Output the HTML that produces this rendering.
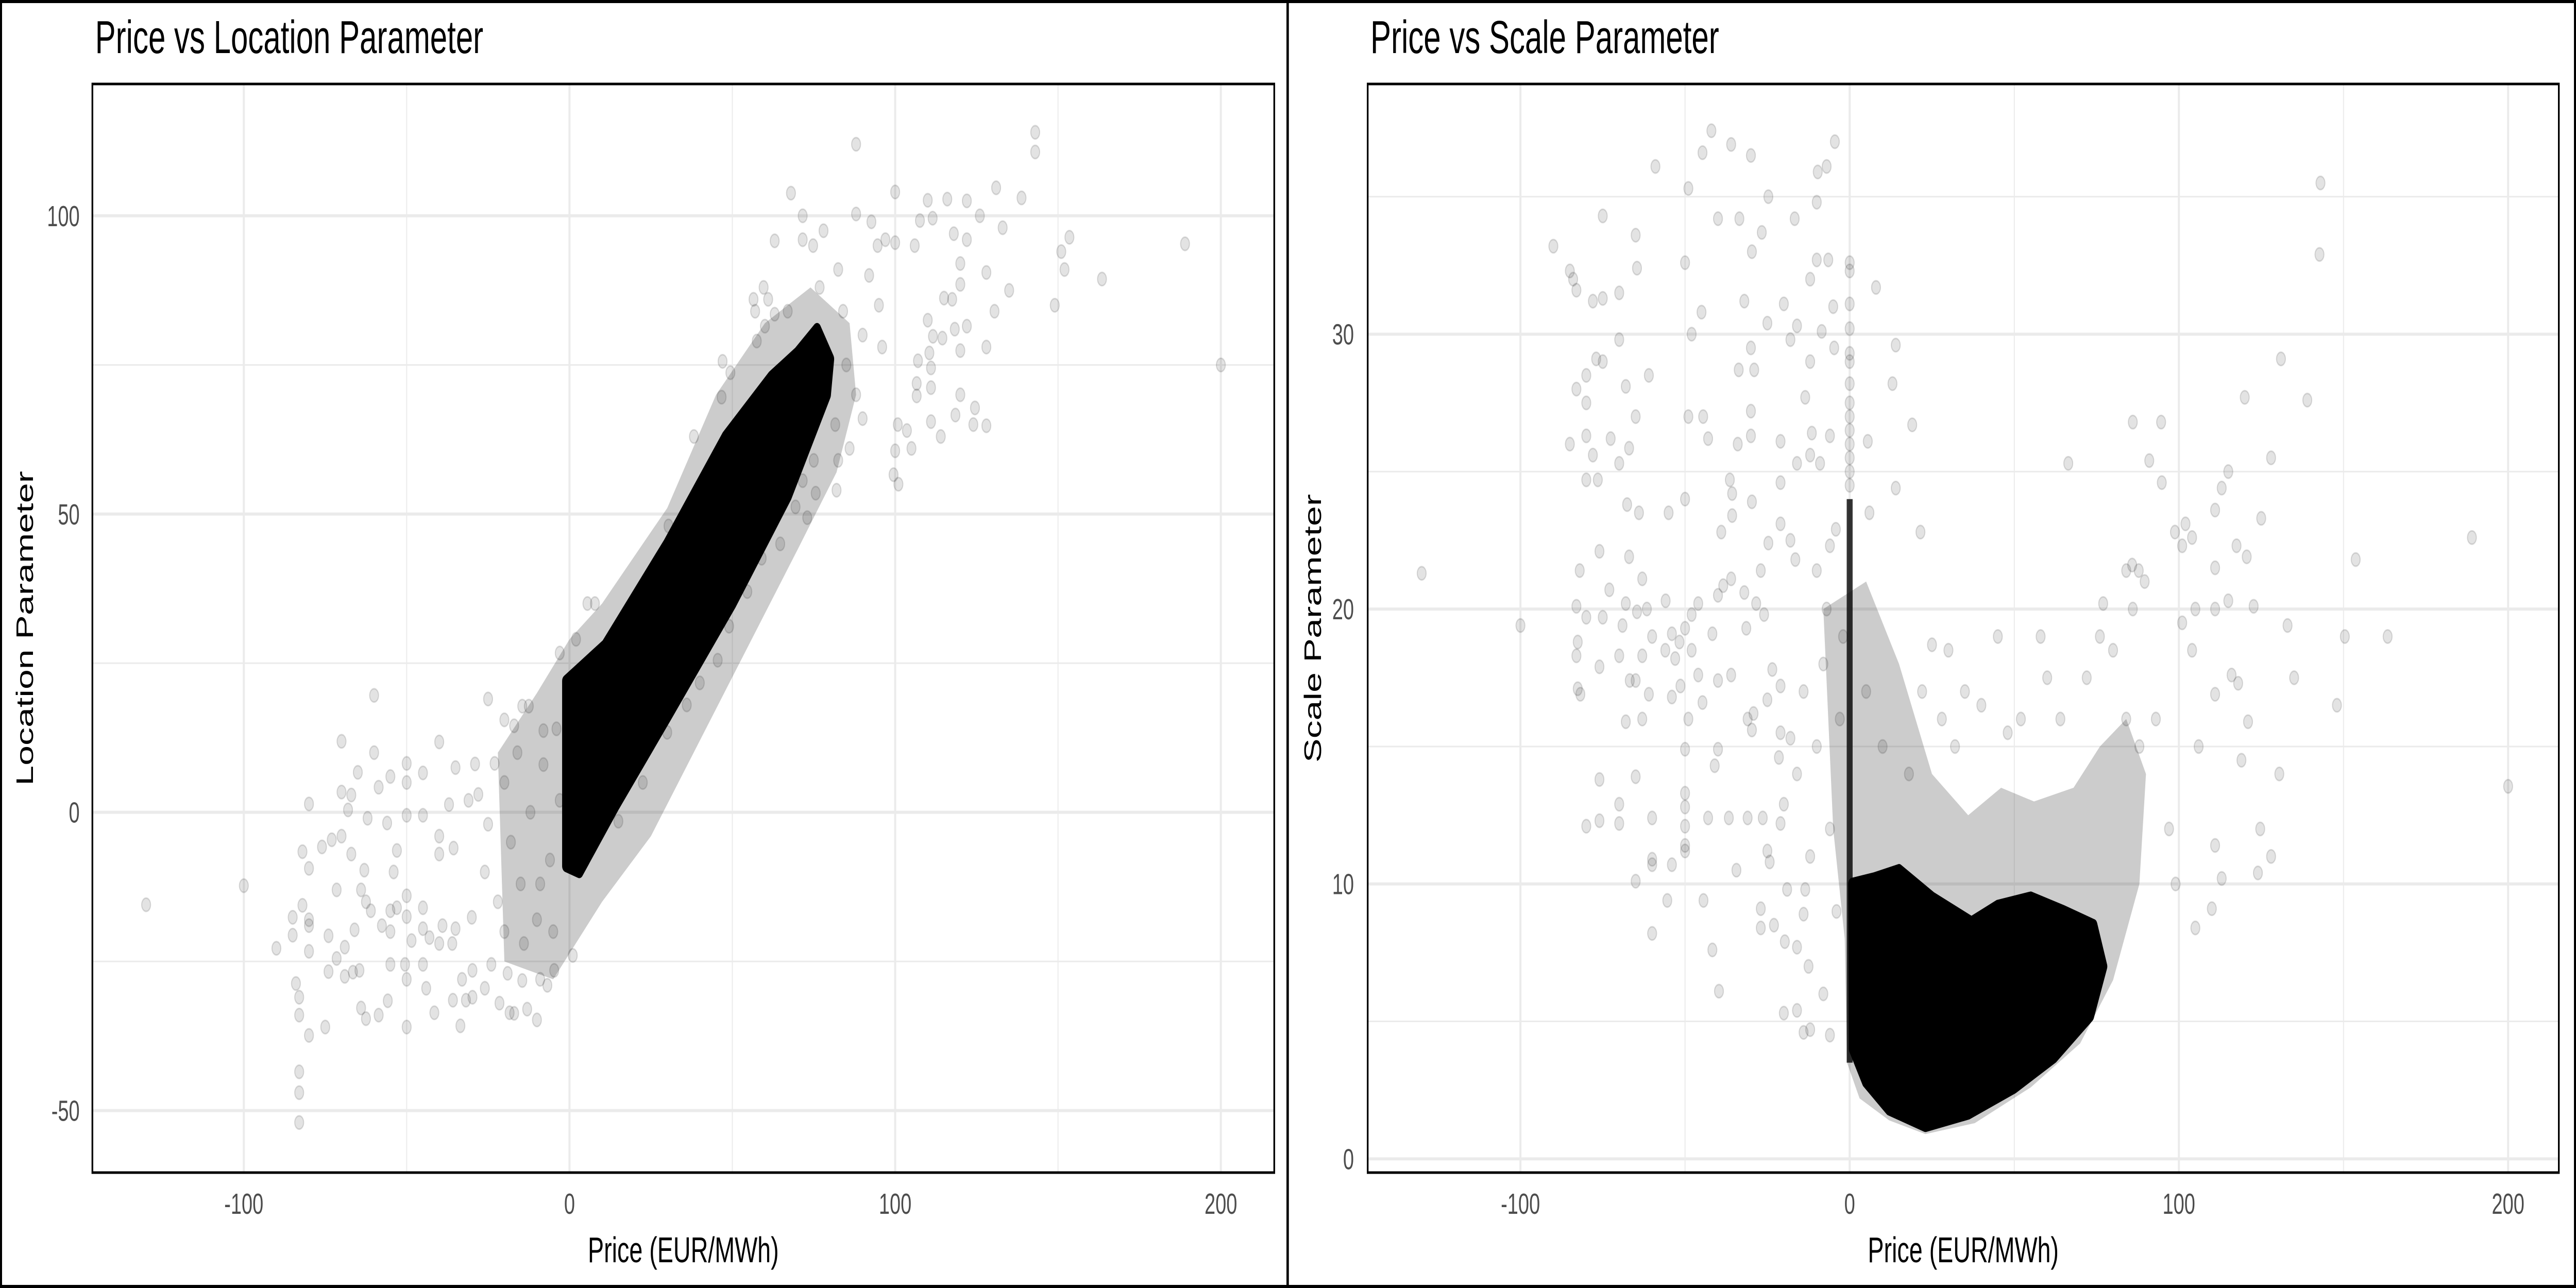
<!DOCTYPE html>
<html>
<head>
<meta charset="utf-8">
<style>
html,body{margin:0;padding:0;background:#fff;overflow:hidden;width:100%;height:100%;}
svg{display:block;width:100vw;height:100vh;}
text{font-family:"Liberation Sans",Arial,sans-serif;}
</style>
</head>
<body>
<svg id="chart" viewBox="0 0 7500 2500" preserveAspectRatio="none" xmlns="http://www.w3.org/2000/svg">
  <rect x="0" y="0" width="7500" height="2500" fill="#fff"/>
  <g id="leftPanel"></g>
  <g id="rightPanel"></g>
  <rect x="3" y="3" width="7494" height="2494" fill="none" stroke="#000" stroke-width="6"/>
  <line x1="3749" y1="0" x2="3749" y2="2500" stroke="#000" stroke-width="7"/>
</svg>
<script>
// ---------------- DATA ----------------
const xTicks = [-100, 0, 100, 200];
const xMinor = [-150, -50, 50, 150];
const leftYTicks = [-50, 0, 50, 100];
const leftYMinor = [-25, 25, 75];
const rightYTicks = [0, 10, 20, 30];
const rightYMinor = [5, 15, 25, 35];

// dense core envelope (price, location)
const leftCore = [[-1,-9],[-1,22],[5,25],[11,28],[30,45],[48,63],[62,73],[70,77],[76,81],[80,76],[79,70],[67,53],[50,35],[30,16],[14,1],[8,-5],[3,-10]];
const leftHalo = [[-20,-25],[-22,10],[-10,20],[0,29],[10,35],[30,51],[45,70],[60,82],[74,88],[86,82],[88,70],[82,57],[70,44],[55,28],[40,12],[25,-4],[10,-15],[-5,-28]];
// sparse points (price, location)
const leftPoints = [[-130,-15.5],[-100,-12.3],[-90,-22.8],[-83,-43.5],[-83,-47],[-83,-52],[-84,-28.7],[-83,-31],[-83,-34],[-80,-37.4],[-75,-36],
[-80,1.4],[-82,-6.6],[-80,-9.4],[-82,-15.6],[-80,-18],[-85,-17.6],[-85,-20.6],[-80,-19],[-80,-23.3],[-76,-5.8],[-73,-4.6],[-70,-4],[-70,11.9],[-60,19.6],[-60,10],[-65,6.7],[-67,2.9],[-70,3.4],[-68,0.4],[-58.6,4.2],[-55,6],[-50,8.2],[-50,5],[-45,6.6],[-40,11.8],[-35,7.5],[-29,8.1],[-23,8.2],[-25,19],[-20,15.5],[-14.5,17.8],[-17,14.5],[-8,13.7],
[-62,-1],[-56,-1.8],[-50,-0.5],[-45,-0.5],[-40,-4],[-37,1.3],[-31,2],[-28,3],[-25,-2],[-35.6,-6],[-40,-7],[-53,-6.4],[-54,-10],[-63,-9.7],[-67,-7],[-71.5,-13],[-64,-13],[-62.5,-15],[-61,-16.5],[-57.6,-19],[-55,-20],[-50,-14],[-53,-16],[-55,-16.5],[-50,-17.5],[-45,-16],[-39,-19],[-35,-19.5],[-30,-17.6],[-45,-19.5],[-43,-21],[-48.5,-21.5],[-40,-22],[-36,-22],[-66,-19.7],[-69,-22.6],[-74,-20.7],[-71.5,-24.5],[-74,-26.7],[-69,-27.5],[-66.5,-26.8],[-64.5,-26.5],[-55.8,-31.6],[-55,-25.5],[-50.5,-25.5],[-50,-28],[-45,-25.5],[-44,-29.5],[-41.5,-33.6],[-58.6,-34],[-62.5,-34.6],[-64,-32.8],[-50,-36],[-33.5,-35.8],[-35.8,-31.5],[-31.8,-31.5],[-29.8,-31],[-29.8,-26.5],[-33,-28],[-24,-25.5],[-26,-29.5],[-21.5,-32],[-18.4,-33.6],[-17,-33.7],[-13,-33],[-10,-34.8],[-19,-27],[-14.5,-28.2],[-9,-28],[-6.8,-29],[-4.7,-26.5],[1,-24],
[-20,5],[-18,-5],[-15,-12],[-12,0],[-10,-18],[-8,8],[-6,-8],[-5,-20],[-3,2],[-22,-15],[-16,10],[-26,-10],[-14,-22],[-20,-20],[-9,-12],[-4,14],
[200,75],[189,95.3],[163.5,89.4],[143,114],[143,110.7],[153.5,96.4],[151,94],[152,91],[149,85],[138.8,103],[131,104.7],[133,98],[135,87.5],[130.5,84],[128,78],[128,90.5],[126,100],[122,102.5],[116,102.8],[110,102.6],[111.5,99.6],[107.6,99.2],[118,97],[122,96],[120,92],[120,88.5],[117.5,86],[115,86.2],[122,81.5],[118.3,81],[120,77.4],[111.6,79.8],[114.5,79.5],[110.5,77],[111,74.5],[111,71.2],[120,70],[124.5,67.8],[118.5,66.6],[124,65],[128,64.8],[114,63],[111,65.5],[106.6,71.9],[106.6,69.8],[105,61],[100,60.6],[101,55],[99.5,56.6],[103.6,64],[100.8,65],[110,82.5],[107,75.7],[106,95],[100,104],[92.7,99],[88,112],[88,100.3],[68,103.8],[71.6,100],[78,97.5],[74.8,95],[63,95.8],[71.6,96],[82.5,91],[76.8,88],[94.6,95],[100,95.5],[97,96],
[59.6,88],[61,86],[56.5,86],[57,84],[67,84],[63,83.5],[60,81.5],[57.5,79],[49.4,73.7],[47,75.6],[46.7,69.6],[38.2,63],[30.4,48],[5.5,35],[7.8,35],[2,29],[-3,26.7],[-12.5,17.8],
[73,49.4],[75.6,53.5],[69.4,51.2],[64.7,45],[59,42.6],[54.6,37],[49,31.2],[45.5,25.5],[40,21.7],[36,18],[30,13.4],[22.5,5],[15,-1.5],[82,54],[82.5,59],[75,59],[71.6,55.6],[86,61],[81.6,65],[85,75],[90,80],[88,70],[95,85],[92,90],[84,84],[96,78],[90,66]];

// right panel (price, scale)
const rightCore = [[0.8,10],[1,4],[5,2.8],[12,1.8],[23,1.2],[36,1.65],[50,2.6],[62,3.7],[73,5.2],[77,7],[74,8.5],[65,9],[55,9.5],[45,9.2],[37,8.6],[25,9.5],[15,10.5],[7.5,10.2]];
const rightHalo = [[-8,20],[-5,12],[-1.5,8],[-0.8,3.5],[3,2.2],[12,1.4],[23,0.9],[38,1.3],[55,2.6],[70,4.2],[80,6.5],[88,10],[90,14],[84,16],[76,15],[68,13.5],[56,13],[46,13.5],[36,12.5],[25,14],[15,18],[5,21]];
const rightColumn = [[-0.9,3.5],[-0.9,24],[0.9,24],[0.9,3.5]];
const rightPoints = [[-130,21.3],[-100,19.4],[200,13.55],[189,22.6],[153.7,21.8],[150.4,19],[148,16.5],[163.4,19],[143,35.5],[142.7,32.9],[139,27.6],[131,29.1],[128,25.5],[125,23.3],[122.7,20.1],[120,27.7],[133,19.4],[135,17.5],[130.5,14],[128,11],[124.7,12],[124,10.4],[119,14.5],[121,15.9],[120.6,21.9],[115,25],[113,24.4],[117.5,22.3],[115,20.3],[111,21.5],[111,20],[105,20],[101,22.3],[102,23.1],[104,22.6],[111,23.6],[101,19.5],[104,18.5],[111,16.9],[106,15],[110,9.1],[105,8.4],[113,10.2],[111,11.4],[118,17.3],[116,17.6],[94.6,26.8],[91,25.4],[86,26.8],[85.8,21.6],[87.8,21.4],[89.6,21],[84,21.4],[77,20.2],[66.4,25.3],[94.8,24.6],[98.8,22.8],
[-90,33.2],[-85,32.3],[-84,32],[-83,31.6],[-78,31.2],[-75,31.3],[-70,31.5],[-75,34.3],[-65,33.6],[-64.6,32.4],[-70,29.8],[-77,29.1],[-75,29],[-68,28.1],[-61,28.5],[-80,28.5],[-83,28],[-80,27.5],[-65,27],[-85,26],[-80,26.3],[-78,25.6],[-72.6,26.2],[-70,25.3],[-67,25.85],[-80,24.7],[-76.5,24.7],[-67.6,23.8],[-64,23.5],[-55,23.5],[-50,24],[-59,36.1],[-42,37.4],[-44.7,36.6],[-36,36.9],[-30,36.5],[-49,35.3],[-40,34.2],[-33.5,34.2],[-26.7,33.7],[-29.7,33],[-24.7,35],[-16.7,34.2],[-9.7,35.9],[-7,36.1],[-4.5,37],[-10,34.8],[-12,32],[-10,32.7],[-6.5,32.7],[-5,31],[-20,31.1],[-25,30.4],[-18,29.8],[-16,30.3],[-8.5,30.1],[-4.7,29.5],[-12,29],[-32,31.2],[-48,30],[-45,30.8],[-50,32.6],[-30,29.5],[-29,28.7],[-33.7,28.7],[-34,26],[-30,26.3],[-30,27.2],[-49,27],[-44.5,27],[-43,26.2],[-21,26.1],[-21,24.6],[-13.5,27.7],[-11.5,26.4],[-6,26.3],[-9,25.3],[-12,25.6],[-16,25.3],[-36.4,24.7],[-35.7,24.2],[-35.7,23.4],[-39,22.8],[-29.7,23.9],[-24.7,22.4],[-21,23.1],[-18,22.5],[-16.5,21.8],[-10,21.4],[-6,22.3],[-4.2,22.9],[6,23.5],[14,24.4],[19,26.7],[13,28.2],[14,29.6],[8,31.7],[5.5,26.1],[21.5,22.8],
[-82,21.4],[-83,20.1],[-82.6,18.8],[-83,18.3],[-82.6,17.1],[-81.8,16.9],[-80,19.7],[-76,22.1],[-73,20.7],[-75,19.7],[-68,20.2],[-64.6,19.9],[-61.6,20],[-63,21.1],[-67,21.9],[-69,19.4],[-76,17.9],[-70,18.3],[-66.8,17.4],[-65,17.4],[-68,15.9],[-63,16],[-61,16.9],[-60,19],[-63,18.3],[-55.9,20.3],[-54,19.1],[-53,18.2],[-51.7,18.8],[-50,19.3],[-48,19.8],[-48,18.5],[-56,18.5],[-54,16.8],[-51.4,17.2],[-49,16],[-44.7,16.6],[-46,17.6],[-41.7,19.1],[-40,20.5],[-38.4,20.85],[-36,21.1],[-32,20.6],[-28.4,20.2],[-31.4,19.3],[-27,21.4],[-26,19.8],[-46,20.2],[-40,17.4],[-36,17.6],[-31,16],[-29.7,15.6],[-29.2,16.2],[-23.5,17.8],[-25,16.7],[-21,17.2],[-21,15.5],[-18,15.3],[-21.5,14.6],[-16,14],[-20,12.9],[-21,12.2],[-26.4,12.4],[-31,12.4],[-36.7,12.4],[-43,12.4],[-41,14.3],[-40,14.9],[-50,14.9],[-50,13.3],[-50,12.8],[-50,12.1],[-50,11.2],[-50,11.4],[-60,12.4],[-60,10.9],[-60,10.7],[-65,10.1],[-65,13.9],[-70,12.9],[-70,12.2],[-76,12.3],[-80,12.1],[-76,13.8],[-55.4,9.4],[-54,10.7],[-44.4,9.4],[-41.7,7.6],[-39.7,6.1],[-60,8.2],[-34.4,10.5],[-25,11.2],[-24.3,10.8],[-27,9.1],[-27,8.4],[-23,8.5],[-19.7,7.9],[-16,7.7],[-20,5.3],[-14,4.6],[-16,5.4],[-6,4.5],[-12,4.7],[-12.5,7],[-14,8.9],[-13.5,9.8],[-19,9.8],
[0,24.5],[0,25.5],[0,26.5],[0,27.5],[0,28.2],[0,29],[0,29.3],[0,30.2],[0,31.1],[0,32.3],[0,32.6],[0,26],[0,27],[0,25],
[-8,18],[-10,15],[-6,12],[-12,11],[-4,9],[-8,6],[-3,16],[-7,20],[-14,17],[-2,19],[5,17],[10,15],[18,14],[22,17],[28,16],[32,15],[40,16.5],[48,15.5],[52,16],[60,17.5],[64,16],[72,17.5],[80,18.5],[84,16],[88,15],[93,16],[97,12],[99,10],[86,20],[76,19],[58,19],[45,19],[30,18.5],[35,17],[25,18.7]];

// ---------------- HELPERS ----------------
const NS = 'http://www.w3.org/2000/svg';
function lin(d0, d1, r0, r1){ return v => r0 + (v - d0) * (r1 - r0) / (d1 - d0); }
function mk(tag, attrs, parent){
  const e = document.createElementNS(NS, tag);
  for (const k in attrs) e.setAttribute(k, attrs[k]);
  parent.appendChild(e);
  return e;
}

function drawPanel(g, cfg){
  const {L, R, T, B, xs, ys, yMajor, yMinor, yLabelRight, core, halo, extra, pts, title, ytitle, ytitleX} = cfg;
  xMinor.forEach(v => {
    const x = xs(v);
    if (x <= L || x >= R) return;
    const ln = mk('line', {x1:x, x2:x, y1:T, y2:B, stroke:'#ebebeb', 'stroke-width':3}, g);
    
    
  });
  yMinor.forEach(v => {
    const y = ys(v);
    if (y <= T || y >= B) return;
    const ln = mk('line', {x1:L, x2:R, y1:y, y2:y, stroke:'#ebebeb', 'stroke-width':3}, g);
    
    
  });
  xTicks.forEach(v => {
    const x = xs(v);
    const ln = mk('line', {x1:x, x2:x, y1:T, y2:B, stroke:'#ebebeb', 'stroke-width':6}, g);
    
    
    const t = mk('text', {x:x, y:2356, 'font-size':57, fill:'#4d4d4d', 'text-anchor':'middle'}, g);
    t.textContent = String(v);
    
    
  });
  yMajor.forEach(v => {
    const y = ys(v);
    const ln = mk('line', {x1:L, x2:R, y1:y, y2:y, stroke:'#ebebeb', 'stroke-width':6}, g);
    
    
    const t = mk('text', {x:yLabelRight, y:y + 20, 'font-size':57, fill:'#4d4d4d', 'text-anchor':'end'}, g);
    t.textContent = String(v);
    
    
  });
  const clipId = cfg.id + '-clip';
  const defs = mk('defs', {}, g);
  const cp = mk('clipPath', {id: clipId}, defs);
  mk('rect', {x:L, y:T, width:R - L, height:B - T}, cp);
  const mg = mk('g', {'clip-path':'url(#' + clipId + ')'}, g);
  
  
  const poly = (arr, op, sw, name) => {
    const p = mk('polygon', {points: arr.map(d => xs(d[0]) + ',' + ys(d[1])).join(' '), fill:'#000', 'fill-opacity':op, stroke: sw ? '#000' : 'none', 'stroke-width':sw, 'stroke-linejoin':'round'}, mg);
    
    
  };
  poly(halo, 0.2, 0, 'density-halo');
  extra.forEach(a => poly(a, 0.8, 0, 'density-column'));
  poly(core, 1, 24, 'density-core');
  pts.forEach(d => {
    const c = mk('circle', {cx: xs(d[0]), cy: ys(d[1]), r: 13, fill:'rgba(0,0,0,0.11)', stroke:'rgba(0,0,0,0.13)', 'stroke-width':3}, mg);
    
    
  });
  const br = mk('rect', {x:L, y:T, width:R - L, height:B - T, fill:'none', stroke:'#000', 'stroke-width':5}, g);
  
  
  const tt = mk('text', {x:L + 8, y:103, 'font-size':90, fill:'#000'}, g);
  tt.textContent = title;
  
  
  const xt = mk('text', {x:(L + R) / 2, y:2450, 'font-size':70, fill:'#000', 'text-anchor':'middle'}, g);
  xt.textContent = 'Price (EUR/MWh)';
  
  
  const cy = (T + B) / 2;
  const yt = mk('text', {x:ytitleX, y:cy, 'font-size':70, fill:'#000', 'text-anchor':'middle', transform:'rotate(-90 ' + ytitleX + ' ' + cy + ')'}, g);
  yt.textContent = ytitle;
  
  
}

drawPanel(document.getElementById('leftPanel'), {
  id:'left', L:269, R:3710, T:163, B:2276,
  xs: lin(-146.5, 216.4, 269, 3710), ys: lin(-60.4, 122.1, 2276, 163),
  yMajor: leftYTicks, yMinor: leftYMinor, yLabelRight: 232,
  core: leftCore, halo: leftHalo, extra: [], pts: leftPoints,
  title: 'Price vs Location Parameter', ytitle: 'Location Parameter', ytitleX: 96
});
drawPanel(document.getElementById('rightPanel'), {
  id:'right', L:3982, R:7450, T:163, B:2276,
  xs: lin(-146.4, 215.4, 3982, 7450), ys: lin(-0.5, 39.1, 2276, 163),
  yMajor: rightYTicks, yMinor: rightYMinor, yLabelRight: 3942,
  core: rightCore, halo: rightHalo, extra: [rightColumn], pts: rightPoints,
  title: 'Price vs Scale Parameter', ytitle: 'Scale Parameter', ytitleX: 3846
});
</script>
</body>
</html>
